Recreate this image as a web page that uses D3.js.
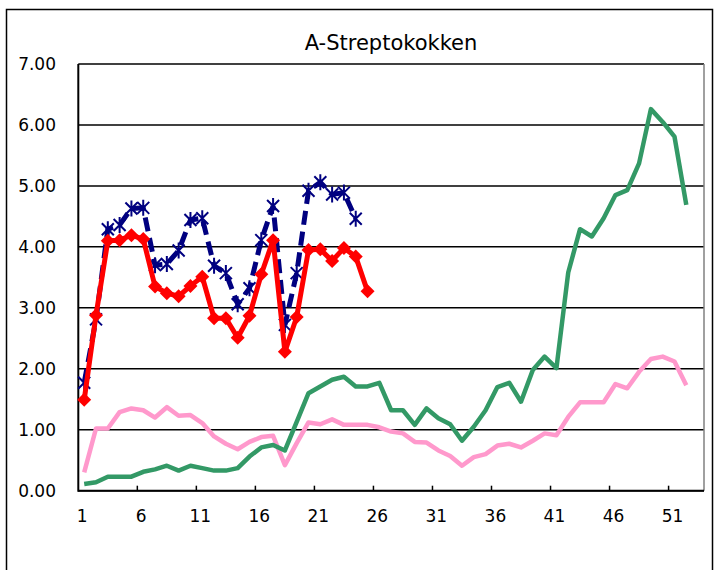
<!DOCTYPE html>
<html>
<head>
<meta charset="utf-8">
<script src="https://d3js.org/d3.v7.min.js"></script>
<style>
  body { margin: 0; background: #fff; }
  text { font-family: "DejaVu Sans", sans-serif; }
</style>
</head>
<body>
<script>
// weeks 1..53 on the category axis, label every 5th
var weeks = d3.range(1, 54);
var tickLabels = [1, 6, 11, 16, 21, 26, 31, 36, 41, 46, 51];
var yTicks = [0, 1, 2, 3, 4, 5, 6, 7];

// navy dashed series with stars (weeks 1-24)
var seriesBlue = [1.77, 2.81, 4.29, 4.36, 4.63, 4.64, 3.70, 3.72, 3.94, 4.44, 4.47, 3.69,
  3.57, 3.06, 3.32, 4.11, 4.67, 2.72, 3.57, 4.92, 5.06, 4.86, 4.89, 4.46];

// red series with diamonds (weeks 1-25)
var seriesRed = [1.49, 2.88, 4.10, 4.11, 4.19, 4.13, 3.35, 3.24, 3.19, 3.36, 3.51, 2.83,
  2.83, 2.51, 2.87, 3.55, 4.11, 2.28, 2.85, 3.95, 3.96, 3.77, 3.98, 3.84, 3.27];

// green series (weeks 1-52)
var seriesGreen = [0.11, 0.14, 0.23, 0.23, 0.23, 0.31, 0.35, 0.41, 0.33, 0.41, 0.37, 0.33,
  0.33, 0.37, 0.56, 0.71, 0.75, 0.66, 1.13, 1.60, 1.71, 1.82, 1.87, 1.71, 1.71, 1.77,
  1.32, 1.32, 1.08, 1.35, 1.19, 1.09, 0.82, 1.05, 1.32, 1.70, 1.77, 1.46, 1.98, 2.20,
  2.01, 3.58, 4.29, 4.17, 4.47, 4.85, 4.93, 5.37, 6.26, 6.05, 5.81, 4.69];

// pink series (weeks 1-52)
var seriesPink = [0.30, 1.02, 1.02, 1.29, 1.35, 1.32, 1.20, 1.37, 1.23, 1.24, 1.11, 0.89,
  0.77, 0.68, 0.80, 0.88, 0.90, 0.42, 0.78, 1.12, 1.09, 1.17, 1.08, 1.08, 1.08, 1.04,
  0.97, 0.94, 0.80, 0.79, 0.66, 0.57, 0.41, 0.55, 0.60, 0.74, 0.77, 0.71, 0.82, 0.94,
  0.91, 1.21, 1.45, 1.45, 1.45, 1.75, 1.68, 1.95, 2.16, 2.20, 2.12, 1.73];

window.onload = function(){
  var width = 721, height = 570;
  var left = 78.3, right = 704, top = 64, bottom = 490.7;

  var svg = d3.select("body")
    .append("svg")
      .attr("width", width)
      .attr("height", height);

  // outer chart frame
  svg.append("rect")
    .attr("x", 6.5).attr("y", 9.5)
    .attr("width", 706).attr("height", 600)
    .attr("fill", "none")
    .attr("stroke", "#000")
    .attr("stroke-width", 1.5);

  var x = d3.scaleBand()
    .domain(weeks)
    .range([left, right]);

  var y = d3.scaleLinear()
    .domain([0, 7])
    .range([bottom, top]);

  function cx(i){ return x(weeks[i]) + x.bandwidth() / 2; }

  // horizontal gridlines
  svg.selectAll(".grid")
    .data(yTicks)
    .enter()
    .append("line")
      .attr("x1", left).attr("x2", right)
      .attr("y1", function(d){ return y(d); })
      .attr("y2", function(d){ return y(d); })
      .attr("stroke", "#000")
      .attr("stroke-width", 1.5);

  // right edge of plot area
  svg.append("line")
    .attr("x1", right).attr("x2", right)
    .attr("y1", top).attr("y2", bottom)
    .attr("stroke", "#808080")
    .attr("stroke-width", 1.5);

  // y labels
  svg.selectAll(".ylab")
    .data(yTicks)
    .enter()
    .append("text")
      .attr("x", 56)
      .attr("y", function(d){ return y(d) + 6; })
      .attr("text-anchor", "end")
      .attr("font-size", "17px")
      .attr("fill", "#000")
      .text(function(d){ return d.toFixed(2); });

  // x tick marks every 5 categories, pointing up
  var tickPos = d3.range(0, 11).map(function(k){ return left + k * 5 * x.bandwidth(); });
  svg.selectAll(".xtick")
    .data(tickPos.slice(1))
    .enter()
    .append("line")
      .attr("x1", function(d){ return d; })
      .attr("x2", function(d){ return d; })
      .attr("y1", bottom).attr("y2", bottom - 5)
      .attr("stroke", "#000")
      .attr("stroke-width", 1.5);

  // x labels
  svg.selectAll(".xlab")
    .data(tickLabels)
    .enter()
    .append("text")
      .attr("x", function(d){ return x(d) + x.bandwidth() / 2 - 2; })
      .attr("y", 522)
      .attr("text-anchor", "middle")
      .attr("font-size", "17px")
      .attr("fill", "#000")
      .text(function(d){ return d; });

  // axes lines
  svg.append("line")
    .attr("x1", left).attr("x2", left)
    .attr("y1", top).attr("y2", bottom + 1)
    .attr("stroke", "#000").attr("stroke-width", 2);
  svg.append("line")
    .attr("x1", left).attr("x2", right)
    .attr("y1", bottom).attr("y2", bottom)
    .attr("stroke", "#000").attr("stroke-width", 2);

  var line = d3.line()
    .x(function(d, i){ return cx(i); })
    .y(function(d){ return y(d); });

  // pink and green first, underneath
  svg.append("path")
    .datum(seriesPink)
    .attr("d", line)
    .attr("fill", "none")
    .attr("stroke", "#FF99CC")
    .attr("stroke-width", 4.5)
    .attr("stroke-linejoin", "round");

  svg.append("path")
    .datum(seriesGreen)
    .attr("d", line)
    .attr("fill", "none")
    .attr("stroke", "#339966")
    .attr("stroke-width", 4.5)
    .attr("stroke-linejoin", "round");

  // navy dashed with star markers
  svg.append("path")
    .datum(seriesBlue)
    .attr("d", line)
    .attr("fill", "none")
    .attr("stroke", "#000080")
    .attr("stroke-width", 5)
    .attr("stroke-dasharray", "14,7");

  var stars = svg.selectAll(".star")
    .data(seriesBlue)
    .enter()
    .append("g")
      .attr("transform", function(d, i){ return "translate(" + cx(i) + "," + y(d) + ")"; });
  stars.append("path")
    .attr("d", "M-6,-6L6,6M-6,6L6,-6M0,-8L0,8")
    .attr("stroke", "#000080")
    .attr("stroke-width", 2)
    .attr("fill", "none");

  // red solid with diamonds
  svg.append("path")
    .datum(seriesRed)
    .attr("d", line)
    .attr("fill", "none")
    .attr("stroke", "#FF0000")
    .attr("stroke-width", 5)
    .attr("stroke-linejoin", "round");

  svg.selectAll(".diamond")
    .data(seriesRed)
    .enter()
    .append("path")
      .attr("transform", function(d, i){ return "translate(" + cx(i) + "," + y(d) + ")"; })
      .attr("d", "M0,-7L7,0L0,7L-7,0Z")
      .attr("fill", "#FF0000");

  // title
  svg.append("text")
    .attr("x", 391)
    .attr("y", 50)
    .attr("text-anchor", "middle")
    .attr("font-family", "Liberation Sans, Arial, sans-serif")
    .attr("font-size", "21px")
    .attr("fill", "#000")
    .text("A-Streptokokken");
};
</script>
</body>
</html>
